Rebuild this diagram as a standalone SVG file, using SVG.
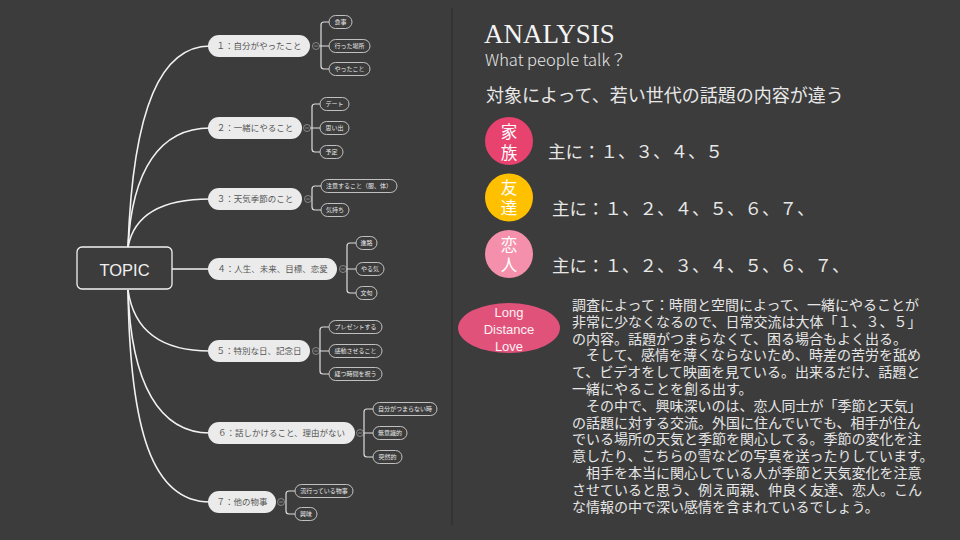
<svg xmlns="http://www.w3.org/2000/svg" width="960" height="540" viewBox="0 0 960 540">
  <defs>
    <style>
      .link { fill: none; stroke: #f2f2f2; stroke-width: 1.6; }
      .main rect { fill: #ebebeb; }
      .mt { font-family: "Noto Sans CJK JP", "Noto Sans", sans-serif; font-size: 8.5px; fill: #555555; text-anchor: middle; }
      .sub rect { fill: none; stroke: #cfcfcf; stroke-width: 0.9; }
      .st { font-family: "Noto Sans CJK JP", "Noto Sans", sans-serif; font-size: 6px; fill: #e8e8e8; text-anchor: middle; }
      .br { fill: none; stroke: #dddddd; stroke-width: 1.2; }
      .side { font-family: "Noto Sans CJK JP", "Noto Sans", sans-serif; fill: #e8e8e8; }
      .badge { font-family: "Noto Sans CJK JP", "Noto Sans", sans-serif; font-size: 16.5px; fill: #ffffff; text-anchor: middle; }
      .para { font-family: "Noto Sans CJK JP", "Noto Sans", sans-serif; font-size: 14px; fill: #e6e6e6; }
    </style>
    <!-- collapse marker shown beside each branch -->
    <g id="fold">
      <circle r="3.5" fill="#3c3c3c" stroke="#9a9a9a" stroke-width="0.8"/>
      <path d="M-1.8,0 H1.8" stroke="#9a9a9a" stroke-width="0.8"/>
    </g>
  </defs>

  <rect width="960" height="540" fill="#3c3c3c"/>
  <line x1="452" y1="8" x2="452" y2="525" stroke="#2b2b2b" stroke-width="1"/>

  <!-- connectors from the central topic to the main branches -->
  <g id="connectors">
    <path class="link" d="M128,247 C133,105 162,46 210,46"/>
    <path class="link" d="M128,247 C132,170 160,128 210,128"/>
    <path class="link" d="M128,247 C134,215 162,199 210,199"/>
    <path class="link" d="M172,269 H210"/>
    <path class="link" d="M128,290 C134,332 162,351 210,351"/>
    <path class="link" d="M128,290 C131,385 160,433 210,433"/>
    <path class="link" d="M128,290 C130,430 152,502 210,502"/>
  </g>

  <g id="topic">
    <rect x="77" y="247" width="95" height="42" rx="5" fill="none" stroke="#f2f2f2" stroke-width="1.3"/>
    <text x="124.5" y="276" font-family="Liberation Sans, Arial, sans-serif" font-size="16.5" fill="#f0f0f0" text-anchor="middle">TOPIC</text>
  </g>

  <g id="branch1">
    <g class="main"><rect x="208" y="35" width="102" height="22" rx="11"/></g>
    <text class="mt" x="259" y="49">１：自分がやったこと</text>
    <use href="#fold" x="316" y="46"/>
    <path class="br" d="M329,22 H324 Q321,22 321,25 V66 Q321,69 324,69 H329 M319.5,46 H329"/>
    <g class="sub">
      <rect x="329" y="15.5" width="23" height="13" rx="6.5"/>
      <rect x="329" y="39.5" width="41" height="13" rx="6.5"/>
      <rect x="329" y="62.5" width="41" height="13" rx="6.5"/>
    </g>
    <text class="st" x="340.5" y="24.1">食事</text>
    <text class="st" x="349.5" y="48.1">行った場所</text>
    <text class="st" x="349.5" y="71.1">やったこと</text>
  </g>

  <g id="branch2">
    <g class="main"><rect x="208" y="117" width="94" height="22" rx="11"/></g>
    <text class="mt" x="255" y="131">２：一緒にやること</text>
    <use href="#fold" x="307" y="128"/>
    <path class="br" d="M320,104 H315 Q312,104 312,107 V149 Q312,152 315,152 H320 M310.5,128 H320"/>
    <g class="sub">
      <rect x="320" y="97.5" width="29" height="13" rx="6.5"/>
      <rect x="320" y="121.5" width="29" height="13" rx="6.5"/>
      <rect x="320" y="145.5" width="23" height="13" rx="6.5"/>
    </g>
    <text class="st" x="334.5" y="106.1">デート</text>
    <text class="st" x="334.5" y="130.1">思い出</text>
    <text class="st" x="331.5" y="154.1">予定</text>
  </g>

  <g id="branch3">
    <g class="main"><rect x="208" y="188" width="94" height="22" rx="11"/></g>
    <text class="mt" x="255" y="202">３：天気季節のこと</text>
    <use href="#fold" x="308" y="199"/>
    <path class="br" d="M321,186 H315 Q312,186 312,189 V207 Q312,210 315,210 H321"/>
    <g class="sub">
      <rect x="321" y="179.5" width="76" height="13" rx="6.5"/>
      <rect x="321" y="203.5" width="28" height="13" rx="6.5"/>
    </g>
    <text class="st" x="359" y="188.1">注意すること（服、体）</text>
    <text class="st" x="335" y="212.1">気持ち</text>
  </g>

  <g id="branch4">
    <g class="main"><rect x="208" y="258" width="129" height="22" rx="11"/></g>
    <text class="mt" x="272.5" y="272">４：人生、未来、目標、恋愛</text>
    <use href="#fold" x="343" y="269"/>
    <path class="br" d="M356,243 H350 Q347,243 347,246 V290 Q347,293 350,293 H356 M346.5,269 H356"/>
    <g class="sub">
      <rect x="356" y="236.5" width="21" height="13" rx="6.5"/>
      <rect x="356" y="262.5" width="28" height="13" rx="6.5"/>
      <rect x="356" y="286.5" width="21" height="13" rx="6.5"/>
    </g>
    <text class="st" x="366.5" y="245.1">進路</text>
    <text class="st" x="370" y="271.1">やる気</text>
    <text class="st" x="366.5" y="295.1">文句</text>
  </g>

  <g id="branch5">
    <g class="main"><rect x="208" y="340" width="102" height="22" rx="11"/></g>
    <text class="mt" x="259" y="354">５：特別な日、記念日</text>
    <use href="#fold" x="316" y="351"/>
    <path class="br" d="M329,327 H323 Q320,327 320,330 V371 Q320,374 323,374 H329 M319.5,351 H329"/>
    <g class="sub">
      <rect x="329" y="320.5" width="53" height="13" rx="6.5"/>
      <rect x="329" y="344.5" width="53" height="13" rx="6.5"/>
      <rect x="329" y="367.5" width="53" height="13" rx="6.5"/>
    </g>
    <text class="st" x="355.5" y="329.1">プレゼントする</text>
    <text class="st" x="355.5" y="353.1">感動させること</text>
    <text class="st" x="355.5" y="376.1">経つ時間を祝う</text>
  </g>

  <g id="branch6">
    <g class="main"><rect x="208" y="422" width="147" height="22" rx="11"/></g>
    <text class="mt" x="281.5" y="436">６：話しかけること、理由がない</text>
    <use href="#fold" x="360" y="433"/>
    <path class="br" d="M373,409 H367 Q364,409 364,412 V454 Q364,457 367,457 H373 M363.5,433 H373"/>
    <g class="sub">
      <rect x="373" y="402.5" width="64" height="13" rx="6.5"/>
      <rect x="373" y="426.5" width="34" height="13" rx="6.5"/>
      <rect x="373" y="450.5" width="29" height="13" rx="6.5"/>
    </g>
    <text class="st" x="405" y="411.1">自分がつまらない時</text>
    <text class="st" x="390" y="435.1">無意識的</text>
    <text class="st" x="387.5" y="459.1">突然的</text>
  </g>

  <g id="branch7">
    <g class="main"><rect x="208" y="491" width="68" height="22" rx="11"/></g>
    <text class="mt" x="242" y="505">７：他の物事</text>
    <use href="#fold" x="281" y="502"/>
    <path class="br" d="M295,491 H289 Q286,491 286,494 V511 Q286,514 289,514 H295"/>
    <g class="sub">
      <rect x="295" y="484.5" width="58" height="13" rx="6.5"/>
      <rect x="295" y="507.5" width="22" height="13" rx="6.5"/>
    </g>
    <text class="st" x="324" y="493.1">流行っている物事</text>
    <text class="st" x="306" y="516.1">興味</text>
  </g>

  <!-- analysis panel -->
  <g id="analysis">
    <text x="484" y="43" font-family="Liberation Serif, 'Times New Roman', serif" font-size="27" fill="#f4f4f4">ANALYSIS</text>
    <text class="side" x="485" y="66" font-size="16.5" font-weight="300" fill="#f0f0f0">What people talk？</text>
    <text class="side" x="486" y="102" font-size="18">対象によって、若い世代の話題の内容が違う</text>
  </g>

  <g id="family">
    <circle cx="509" cy="141" r="24" fill="#e8426f"/>
    <text class="badge" x="509" y="137.5">家</text>
    <text class="badge" x="509" y="158.5">族</text>
    <text class="side" x="548" y="158" font-size="17.5">主に：１、３、４、５</text>
  </g>

  <g id="friends">
    <circle cx="509" cy="197.5" r="24" fill="#ffc000"/>
    <text class="badge" x="509" y="193.5">友</text>
    <text class="badge" x="509" y="213.5">達</text>
    <text class="side" x="552" y="215" font-size="17.5">主に：１、２、４、５、６、７、</text>
  </g>

  <g id="lovers">
    <circle cx="509" cy="254" r="24" fill="#f590ac"/>
    <text class="badge" x="509" y="250.5">恋</text>
    <text class="badge" x="509" y="271">人</text>
    <text class="side" x="552" y="272" font-size="17.5">主に：１、２、３、４、５、６、７、</text>
  </g>

  <g id="long-distance">
    <ellipse cx="509" cy="328" rx="51" ry="25" fill="#e0527a"/>
    <g font-family="Liberation Sans, Arial, sans-serif" font-size="13" fill="#fdf0f4" text-anchor="middle">
      <text x="509" y="317">Long</text>
      <text x="509" y="334">Distance</text>
      <text x="509" y="351">Love</text>
    </g>
  </g>

  <g id="notes" class="para">
    <text x="572" y="310">調査によって：時間と空間によって、一緒にやることが</text>
    <text x="572" y="326.8">非常に少なくなるので、日常交流は大体「１、３、５」</text>
    <text x="572" y="343.6">の内容。話題がつまらなくて、困る場合もよく出る。</text>
    <text x="572" y="360.4">　そして、感情を薄くならないため、時差の苦労を舐め</text>
    <text x="572" y="377.2">て、ビデオをして映画を見ている。出来るだけ、話題と</text>
    <text x="572" y="394">一緒にやることを創る出す。</text>
    <text x="572" y="410.8">　その中で、興味深いのは、恋人同士が「季節と天気」</text>
    <text x="572" y="427.6">の話題に対する交流。外国に住んでいでも、相手が住ん</text>
    <text x="572" y="444.4">でいる場所の天気と季節を関心してる。季節の変化を注</text>
    <text x="572" y="461.2">意したり、こちらの雪などの写真を送ったりしています。</text>
    <text x="572" y="478">　相手を本当に関心している人が季節と天気変化を注意</text>
    <text x="572" y="494.8">させていると思う、例え両親、仲良く友達、恋人。こん</text>
    <text x="572" y="511.6">な情報の中で深い感情を含まれているでしょう。</text>
  </g>
</svg>
